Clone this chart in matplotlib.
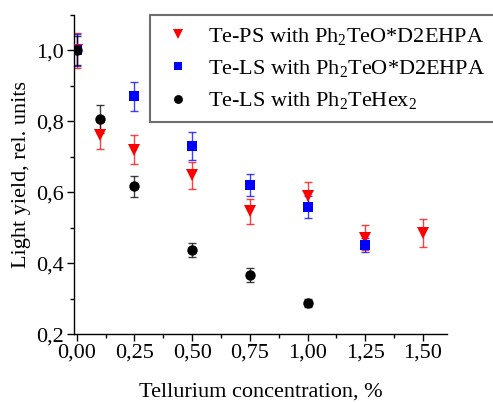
import matplotlib
matplotlib.use("Agg")
import matplotlib.pyplot as plt
from matplotlib.ticker import FuncFormatter, MultipleLocator

plt.rcParams['font.family'] = ['Liberation Serif']
plt.rcParams['mathtext.fontset'] = 'custom'
plt.rcParams['mathtext.rm'] = 'Liberation Serif'
plt.rcParams['mathtext.it'] = 'Liberation Serif:italic'

# Te-PS with Ph2TeO*D2EHPA
ps_x = [0.0, 0.1, 0.25, 0.5, 0.75, 1.0, 1.25, 1.5]
ps_y = [1.0, 0.76, 0.72, 0.648, 0.546, 0.59, 0.472, 0.485]
ps_err = [0.05, 0.038, 0.04, 0.038, 0.036, 0.04, 0.035, 0.04]

# Te-LS with Ph2TeO*D2EHPA
ls_x = [0.0, 0.25, 0.5, 0.75, 1.0, 1.25]
ls_y = [1.0, 0.87, 0.73, 0.62, 0.558, 0.451]
ls_err = [0.045, 0.04, 0.04, 0.03, 0.03, 0.02]

# Te-LS with Ph2TeHex2
hex_x = [0.0, 0.1, 0.25, 0.5, 0.75, 1.0]
hex_y = [1.0, 0.806, 0.617, 0.438, 0.366, 0.287]
hex_err = [0.04, 0.04, 0.03, 0.02, 0.02, 0.012]

labels = [r"Te-PS with Ph$_2$TeO*D2EHPA",
          r"Te-LS with Ph$_2$TeO*D2EHPA",
          r"Te-LS with Ph$_2$TeHex$_2$"]

fig = plt.figure(figsize=(4.93, 4.03), dpi=100)
ax = fig.add_axes([0.150, 0.171, 0.757, 0.792])

series = [
    (ps_x, ps_y, ps_err, 'v', '#ff0000', 8.5),
    (ls_x, ls_y, ls_err, 's', '#0000ff', 7.0),
    (hex_x, hex_y, hex_err, 'o', '#000000', 7.5),
]
handles = []
for (x, y, e, m, c, ms), lab in zip(series, labels):
    ax.errorbar(x, y, yerr=e, fmt='none', ecolor=c, elinewidth=1.0,
                capsize=3, capthick=1.0, alpha=0.75, zorder=2)
    h, = ax.plot(x, y, linestyle='none', marker=m, color=c, markersize=ms,
                 markeredgewidth=0, label=lab, zorder=3)
    handles.append(h)

ax.set_xlim(-0.012, 1.605)
ax.set_ylim(0.2, 1.1)
ax.xaxis.set_major_locator(MultipleLocator(0.25))
ax.xaxis.set_minor_locator(MultipleLocator(0.125))
ax.yaxis.set_major_locator(MultipleLocator(0.2))
ax.yaxis.set_minor_locator(MultipleLocator(0.1))
ax.xaxis.set_major_formatter(FuncFormatter(lambda v, p: f"{v:.2f}".replace('.', ',')))
ax.yaxis.set_major_formatter(FuncFormatter(lambda v, p: f"{v:.1f}".replace('.', ',')))

for s in ('top', 'right'):
    ax.spines[s].set_visible(False)
for s in ('left', 'bottom'):
    ax.spines[s].set_linewidth(1.0)

ax.tick_params(which='major', direction='out', length=5, width=1.0, labelsize=16, pad=2)
ax.tick_params(which='minor', direction='out', length=3, width=1.0)

ax.set_xlabel("Tellurium concentration, %", fontsize=16, labelpad=14)
ax.set_ylabel("Light yield, rel. units", fontsize=16, labelpad=4)

# Legend box runs past the right edge of the figure
x0 = 150 / 493
top = 1 - 15 / 403
leg = fig.legend(handles=handles, loc='upper left',
                 bbox_to_anchor=(x0, top - 0.3, 1.03 - x0, 0.3),
                 mode='expand',
                 fontsize=16, frameon=True, fancybox=False,
                 edgecolor='#6e6e6e', framealpha=1, markerscale=0.85,
                 handlelength=1.5, handletextpad=0.6, labelspacing=0.5,
                 borderpad=0.5, borderaxespad=0)
leg.get_frame().set_linewidth(1.5)

fig.savefig("out.png", dpi=100)
